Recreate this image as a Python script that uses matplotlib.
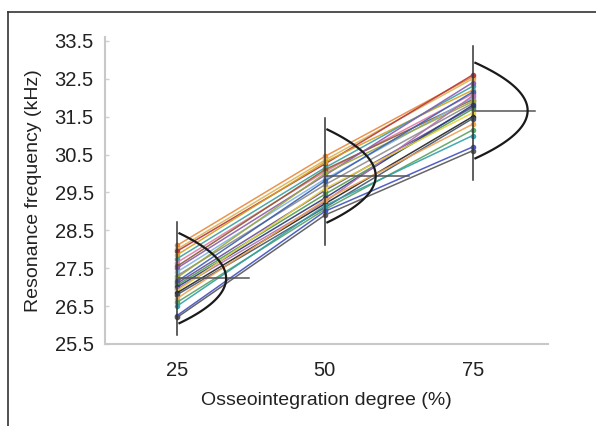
import numpy as np
import matplotlib
matplotlib.use("Agg")
import matplotlib.pyplot as plt
from matplotlib.lines import Line2D

plt.rcParams['font.family'] = ['Liberation Sans', 'DejaVu Sans']

degrees = [25, 50, 75]

# resonance frequency (kHz) per implant at 25 / 50 / 75 % osseointegration
rf_25 = [28.10, 28.00, 27.95, 27.85, 27.75, 27.65, 27.55, 27.50, 27.40, 27.30,
         27.25, 27.15, 27.10, 27.05, 27.00, 26.95, 26.90, 26.85, 26.80, 26.70,
         26.60, 26.50, 26.25, 26.20]
rf_50 = [30.45, 30.35, 30.25, 30.30, 30.15, 30.05, 30.10, 29.95, 29.85, 29.70,
         30.00, 29.80, 29.55, 29.45, 29.35, 29.25, 29.60, 29.20, 29.10, 29.30,
         29.05, 29.15, 29.00, 28.90]
rf_75 = [32.55, 32.50, 32.60, 32.20, 32.30, 32.10, 31.95, 32.40, 32.00, 31.85,
         31.90, 32.15, 31.75, 31.70, 31.80, 32.05, 31.60, 31.50, 31.45, 31.30,
         31.15, 31.00, 30.70, 30.60]
line_colors = ['#e8893a', '#d9b45a', '#b5353c', '#d4a020', '#3a9fa0', '#e07aa8',
               '#8c5a2b', '#8a5ab0', '#7fb3e0', '#8c8c8c', '#9aa83a', '#3d5fb0',
               '#6a4c9c', '#4c9a4c', '#2a3a7a', '#b070b0', '#e8d040', '#222222',
               '#44556a', '#f0a050', '#5aa060', '#30a0a8', '#4050c0', '#555555']

# distribution summaries for each degree
means = [27.23, 29.93, 31.66]
curve_lo = [26.05, 28.71, 30.40]
curve_hi = [28.42, 31.16, 32.92]
range_lo = [25.74, 28.10, 29.82]
range_hi = [28.71, 31.47, 33.37]
mean_line_len = [12.2, 14.2, 10.6]
curve_width = [8.3, 8.6, 9.3]

fig = plt.figure(figsize=(5.96, 4.26), dpi=100)
ax = fig.add_axes([0.176, 0.1925, 0.743, 0.7205])

for i in range(len(rf_25)):
    ax.plot(degrees, [rf_25[i], rf_50[i], rf_75[i]], color=line_colors[i],
            lw=1.1, alpha=0.9, marker='o', markersize=3, zorder=2)

for x, m, c0, c1, lo, hi, hl, w in zip(degrees, means, curve_lo, curve_hi,
                                       range_lo, range_hi, mean_line_len, curve_width):
    ax.plot([x, x], [lo, hi], color='#333333', lw=1.1, zorder=3)
    ax.plot([x, x + hl], [m, m], color='#555555', lw=1.1, zorder=3)
    yy = np.linspace(c0, c1, 100)
    u = (yy - (c0 + c1) / 2) / ((c1 - c0) / 2)
    ax.plot(x + w * (0.05 + 0.95 * (1 - u ** 2)), yy,
            color='#1a1a1a', lw=1.6, zorder=4)

ax.set_xlim(12.8, 87.7)
ax.set_ylim(25.5, 33.6)
ax.set_xticks(degrees)
ax.set_yticks([25.5, 26.5, 27.5, 28.5, 29.5, 30.5, 31.5, 32.5, 33.5])
ax.set_yticklabels(['25.5', '26.5', '27.5', '28.5', '29.5', '30.5', '31.5', '32.5', '33.5'])
ax.tick_params(axis='x', length=0, pad=12, labelsize=14.5, labelcolor='#222222')
ax.tick_params(axis='y', direction='in', length=3, width=1, color='#d0d0d0',
               pad=8, labelsize=14.5, labelcolor='#222222')
for side in ['top', 'right']:
    ax.spines[side].set_visible(False)
for side in ['left', 'bottom']:
    ax.spines[side].set_color('#c8c8c8')
    ax.spines[side].set_linewidth(1.5)

ax.set_xlabel('Osseointegration degree (%)', fontsize=14, color='#222222', labelpad=9)
ax.set_ylabel('Resonance frequency (kHz)', fontsize=14, color='#222222', labelpad=9)

# outer frame (left and top edges)
fig.add_artist(Line2D([8 / 596, 8 / 596], [0, 1 - 12 / 426], color='#333333', lw=1.2))
fig.add_artist(Line2D([8 / 596, 1], [1 - 12 / 426, 1 - 12 / 426], color='#333333', lw=1.2))

fig.savefig('out.png', dpi=100)
